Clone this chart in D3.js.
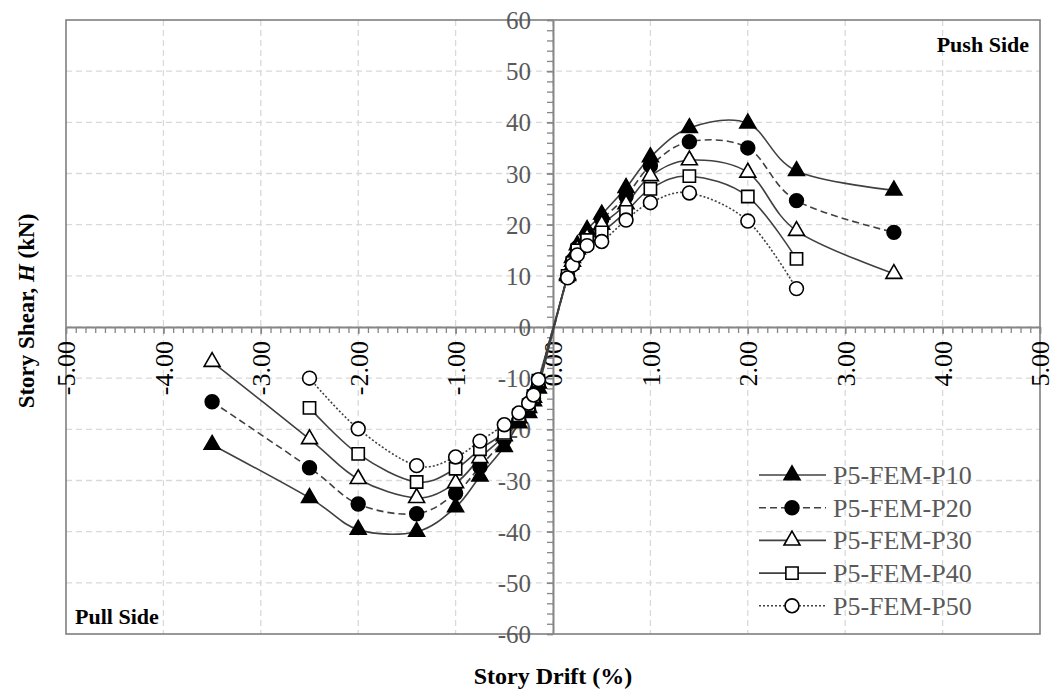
<!DOCTYPE html>
<html>
<head>
<meta charset="utf-8">
<script src="https://cdn.jsdelivr.net/npm/d3@7"></script>
<style>
  body { margin: 0; background: #fff; }
  text { font-family: "Liberation Serif", "Times New Roman", serif; }
</style>
</head>
<body>
<div id="chart"></div>
<script>
// story drift (%) at each loading step, pull side then push side
const drift = [-3.5, -2.5, -2, -1.4, -1, -0.75, -0.5, -0.35, -0.25, -0.2, -0.15,
  0.15, 0.2, 0.25, 0.35, 0.5, 0.75, 1, 1.4, 2, 2.5, 3.5];

// story shear H (kN)
const p10 = [-23, -33.4, -39.6, -40, -35.2, -29.2, -23.4, -18.8, -16.8, -14.5, -12,
  10.3, 13.5, 16, 19, 22, 27.2, 33.2, 38.9, 39.8, 30.5, 26.7];
const p20 = [-14.6, -27.5, -34.6, -36.5, -32.5, -27.3, -22, -18.2, -16.2, -14, -11.5,
  10, 13, 15.5, 18, 21, 25.5, 31.5, 36.2, 35, 24.7, 18.5];
const p30 = [-6.8, -21.9, -29.7, -33.4, -30.5, -25.6, -21.3, -17.8, -15.8, -13.8, -11,
  10, 12.8, 15.2, 17.5, 20, 24, 29.5, 32.6, 30.2, 18.8, 10.4];
const p40 = [null, -15.8, -24.8, -30.3, -27.7, -23.9, -20.7, -17.3, -15.3, -13.5, -10.5,
  10, 12.5, 15, 17, 18.5, 22.5, 27, 29.5, 25.5, 13.3, null];
const p50 = [null, -10, -19.9, -27.1, -25.4, -22.3, -19.1, -16.8, -14.9, -13.3, -10.3,
  9.6, 12.1, 14.1, 15.9, 16.7, 20.9, 24.3, 26.2, 20.7, 7.5, null];

const seriesNames = ["P5-FEM-P10", "P5-FEM-P20", "P5-FEM-P30", "P5-FEM-P40", "P5-FEM-P50"];
const xTicks = [-5, -4, -3, -2, -1, 0, 1, 2, 3, 4, 5];
const yTicks = [-60, -50, -40, -30, -20, -10, 0, 10, 20, 30, 40, 50, 60];

const width = 1057, height = 693;
const margin = { top: 20, right: 16, bottom: 59, left: 66 };

const svg = d3.select("#chart")
  .append("svg")
  .attr("width", width)
  .attr("height", height);

const x = d3.scaleLinear().domain([-5, 5]).range([margin.left, width - margin.right - 1]);
const y = d3.scaleLinear().domain([-60, 60]).range([height - margin.bottom, margin.top]);

// styles per series
const styles = [
  { sym: d3.symbolTriangle, size: 110, fill: "#000", dash: null },
  { sym: d3.symbolCircle, size: 150, fill: "#000", dash: "7,4" },
  { sym: d3.symbolTriangle, size: 110, fill: "#fff", dash: null },
  { sym: d3.symbolSquare, size: 150, fill: "#fff", dash: null },
  { sym: d3.symbolCircle, size: 150, fill: "#fff", dash: "2,2" }
];

const series = [p10, p20, p30, p40, p50].map((vals, i) => ({
  name: seriesNames[i],
  style: styles[i],
  points: drift.map((d, j) => ({ x: d, y: vals[j] })).filter((p) => p.y != null)
}));

// grid
const grid = svg.append("g").attr("stroke", "#d9d9d9").attr("stroke-width", 1.3)
  .attr("stroke-dasharray", "6,4");
grid.selectAll(".gx").data(xTicks.slice(1, -1)).join("line")
  .attr("x1", (d) => x(d)).attr("x2", (d) => x(d))
  .attr("y1", y(60)).attr("y2", y(-60));
grid.selectAll(".gy").data(yTicks.slice(1, -1)).join("line")
  .attr("x1", x(-5)).attr("x2", x(5))
  .attr("y1", (d) => y(d)).attr("y2", (d) => y(d));

// plot border
svg.append("rect")
  .attr("x", x(-5)).attr("y", y(60))
  .attr("width", x(5) - x(-5)).attr("height", y(-60) - y(60))
  .attr("fill", "none").attr("stroke", "#7f7f7f").attr("stroke-width", 1.6);

// x axis (through y = 0)
const fmtX = (d) => d.toFixed(2);
const xMinor = svg.append("g").attr("transform", `translate(0,${y(0)})`)
  .call(d3.axisBottom(x).tickValues(d3.range(-50, 51).map((d) => d / 10))
    .tickSize(6).tickSizeOuter(0).tickFormat(""));
xMinor.select(".domain").attr("stroke", "#868686").attr("stroke-width", 2);
xMinor.selectAll(".tick line").attr("stroke", "#868686").attr("stroke-width", 1.3);

const xAxis = svg.append("g").attr("transform", `translate(0,${y(0)})`)
  .call(d3.axisBottom(x).tickValues(xTicks).tickSize(7).tickFormat(fmtX));
xAxis.select(".domain").remove();
xAxis.selectAll(".tick line").attr("stroke", "#868686").attr("stroke-width", 1.5);
xAxis.selectAll(".tick text")
  .attr("fill", "#000")
  .style("font-size", "26px")
  .attr("transform", "rotate(-90)")
  .attr("text-anchor", "end")
  .attr("x", -14).attr("y", 0).attr("dy", "0.34em");

// y axis (through x = 0)
const yMinor = svg.append("g").attr("transform", `translate(${x(0)},0)`)
  .call(d3.axisLeft(y).tickValues(d3.range(-60, 61, 2))
    .tickSize(6).tickSizeOuter(0).tickFormat(""));
yMinor.select(".domain").attr("stroke", "#868686").attr("stroke-width", 2);
yMinor.selectAll(".tick line").attr("stroke", "#868686").attr("stroke-width", 1.3);

const yAxis = svg.append("g").attr("transform", `translate(${x(0)},0)`)
  .call(d3.axisLeft(y).tickValues(yTicks).tickSize(6).tickFormat((d) => String(d)));
yAxis.select(".domain").remove();
yAxis.selectAll(".tick line").attr("stroke", "#868686").attr("stroke-width", 1.5);
yAxis.selectAll(".tick text")
  .attr("fill", "#595959")
  .style("font-size", "25px")
  .attr("x", -22).attr("dy", "0.34em");

// lines
const line = d3.line()
  .x((d) => x(d.x))
  .y((d) => y(d.y))
  .curve(d3.curveCardinal.tension(0));

svg.append("g").selectAll("path")
  .data(series)
  .join("path")
  .attr("d", (d) => line(d.points))
  .attr("fill", "none")
  .attr("stroke", "#404040")
  .attr("stroke-width", 1.6)
  .attr("stroke-dasharray", (d) => d.style.dash);

// markers
series.forEach((s) => {
  svg.append("g").selectAll("path")
    .data(s.points)
    .join("path")
    .attr("transform", (d) => `translate(${x(d.x)},${y(d.y)})`)
    .attr("d", d3.symbol().type(s.style.sym).size(s.style.size))
    .attr("fill", s.style.fill)
    .attr("stroke", "#000")
    .attr("stroke-width", 1.6);
});

// corner labels
svg.append("text")
  .attr("x", x(5) - 11).attr("y", 52)
  .attr("text-anchor", "end")
  .style("font-size", "22px").style("font-weight", "bold")
  .text("Push Side");
svg.append("text")
  .attr("x", x(-5) + 9).attr("y", 624)
  .style("font-size", "22px").style("font-weight", "bold")
  .text("Pull Side");

// legend
const legend = svg.append("g");
const rowY = (i) => 475 + i * 32.7;
series.forEach((s, i) => {
  const g = legend.append("g").attr("transform", `translate(0,${rowY(i)})`);
  g.append("line")
    .attr("x1", 759).attr("x2", 826).attr("y1", 0).attr("y2", 0)
    .attr("stroke", "#404040").attr("stroke-width", 1.6)
    .attr("stroke-dasharray", s.style.dash);
  g.append("path")
    .attr("transform", "translate(792,0)")
    .attr("d", d3.symbol().type(s.style.sym).size(s.style.size))
    .attr("fill", s.style.fill)
    .attr("stroke", "#000").attr("stroke-width", 1.6);
  g.append("text")
    .attr("x", 833).attr("y", 0).attr("dy", "0.34em")
    .attr("fill", "#595959")
    .style("font-size", "26px")
    .text(s.name);
});

// axis titles
svg.append("text")
  .attr("x", x(0)).attr("y", 684)
  .attr("text-anchor", "middle")
  .style("font-size", "24px").style("font-weight", "bold")
  .text("Story Drift (%)");

const yt = svg.append("text")
  .attr("transform", `translate(34,${311}) rotate(-90)`)
  .attr("text-anchor", "middle")
  .style("font-size", "23px").style("font-weight", "bold");
yt.append("tspan").text("Story Shear, ");
yt.append("tspan").style("font-style", "italic").text("H");
yt.append("tspan").text(" (kN)");
</script>
</body>
</html>
